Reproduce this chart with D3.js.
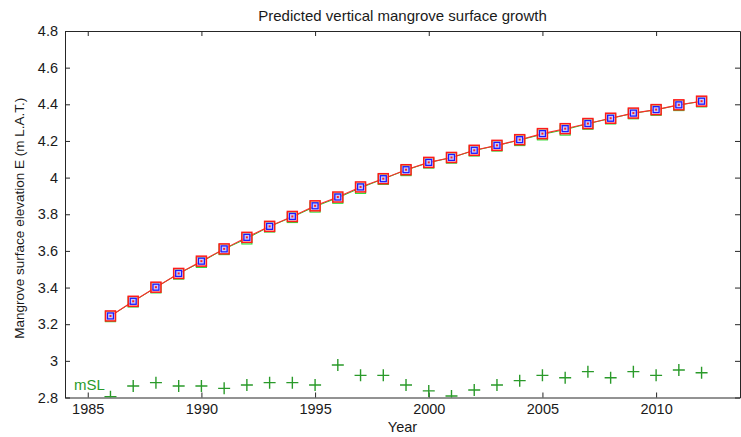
<!DOCTYPE html>
<html>
<head>
<meta charset="utf-8">
<script src="https://cdn.jsdelivr.net/npm/d3@7"></script>
<style>
  html, body { margin: 0; padding: 0; background: #fff; }
  svg { display: block; font-family: "Liberation Sans", Arial, sans-serif; }
</style>
</head>
<body>
<svg id="chart" width="741" height="437"></svg>
<script>
// Years of the model run
const years = [1986,1987,1988,1989,1990,1991,1992,1993,1994,1995,1996,1997,1998,1999,
               2000,2001,2002,2003,2004,2005,2006,2007,2008,2009,2010,2011,2012];

// Predicted surface elevation (m L.A.T.)
const elevation = [3.245,3.325,3.402,3.477,3.544,3.611,3.674,3.734,3.788,3.846,3.894,3.949,3.994,4.043,
                   4.083,4.110,4.149,4.176,4.207,4.240,4.267,4.295,4.324,4.352,4.371,4.397,4.417];

// Second model variant (drawn underneath, almost coincident)
const elevationAlt = [3.244,3.324,3.401,3.476,3.540,3.610,3.668,3.733,3.785,3.842,3.890,3.944,3.993,4.041,
                      4.082,4.109,4.148,4.175,4.205,4.236,4.262,4.294,4.323,4.351,4.370,4.396,4.416];

// Mean sea level (m L.A.T.)
const msl = [2.804,2.863,2.881,2.863,2.863,2.850,2.868,2.881,2.881,2.868,2.977,2.921,2.921,2.868,
             2.836,2.808,2.841,2.868,2.892,2.921,2.908,2.941,2.908,2.941,2.921,2.950,2.935];

const xTicks = [1985,1990,1995,2000,2005,2010];
const yTicks = [2.8,3,3.2,3.4,3.6,3.8,4,4.2,4.4,4.6,4.8];

const L = 65, R = 740, T = 31, B = 397.5;
const svg = d3.select("#chart");

const x = d3.scaleLinear().domain([1984, 2013.69]).range([L, R]);
const y = d3.scaleLinear().domain([2.8, 4.8]).range([B, T]);

const axisColor = "#262626";

// clip to the axes box
svg.append("defs").append("clipPath").attr("id", "plotclip")
  .append("rect").attr("x", L).attr("y", T).attr("width", R - L).attr("height", B - T);

// Axes with inward ticks on all four sides
const tickLen = 5;
const gx = svg.append("g").attr("transform", `translate(0,${B})`)
  .call(d3.axisBottom(x).tickValues(xTicks).tickFormat(d3.format("d")).tickSizeInner(-tickLen).tickSizeOuter(0).tickPadding(6));
const gxTop = svg.append("g").attr("transform", `translate(0,${T})`)
  .call(d3.axisTop(x).tickValues(xTicks).tickFormat("").tickSizeInner(-tickLen).tickSizeOuter(0));
const gy = svg.append("g").attr("transform", `translate(${L},0)`)
  .call(d3.axisLeft(y).tickValues(yTicks).tickFormat(d => d3.format("")(+d.toFixed(1))).tickSizeInner(-tickLen).tickSizeOuter(0).tickPadding(7));
const gyRight = svg.append("g").attr("transform", `translate(${R},0)`)
  .call(d3.axisRight(y).tickValues(yTicks).tickFormat("").tickSizeInner(-tickLen).tickSizeOuter(0));

[gx, gxTop, gy, gyRight].forEach(g => {
  g.selectAll("path.domain").attr("stroke", axisColor).attr("stroke-width", 1);
  g.selectAll(".tick line").attr("stroke", axisColor);
  g.selectAll(".tick text").attr("fill", "#1a1a1a").attr("font-size", 14.5)
    .attr("font-family", "'Liberation Sans', Arial, sans-serif");
});

const plot = svg.append("g").attr("clip-path", "url(#plotclip)");

// Alternative variant: green line with green squares
plot.append("path").datum(years.map((yr, i) => [yr, elevationAlt[i]]))
  .attr("fill", "none").attr("stroke", "#22cc22").attr("stroke-width", 1)
  .attr("d", d3.line().x(d => x(d[0])).y(d => y(d[1])));
plot.selectAll("rect.alt").data(years).join("rect").attr("class", "alt")
  .attr("x", (d, i) => x(d) - 5).attr("y", (d, i) => y(elevationAlt[i]) - 4.5)
  .attr("width", 10).attr("height", 10)
  .attr("fill", "none").attr("stroke", "#33dd33").attr("stroke-width", 1.2);

// Main prediction: red line with red squares
plot.append("path").datum(years.map((yr, i) => [yr, elevation[i]]))
  .attr("fill", "none").attr("stroke", "#ff2a2a").attr("stroke-width", 1.1)
  .attr("d", d3.line().x(d => x(d[0])).y(d => y(d[1])));
plot.selectAll("rect.main").data(years).join("rect").attr("class", "main")
  .attr("x", d => x(d) - 5).attr("y", (d, i) => y(elevation[i]) - 5)
  .attr("width", 10).attr("height", 10)
  .attr("fill", "#ffd6d6").attr("fill-opacity", 0.6)
  .attr("stroke", "#ff1a1a").attr("stroke-width", 1.5);

// Blue inner squares
plot.selectAll("rect.inner").data(years).join("rect").attr("class", "inner")
  .attr("x", d => x(d) - 3).attr("y", (d, i) => y(elevation[i]) - 3)
  .attr("width", 6).attr("height", 6)
  .attr("fill", "#c8c8ff").attr("stroke", "#1a1aff").attr("stroke-width", 1.3);

// Red centre points
plot.selectAll("rect.dot").data(years).join("rect").attr("class", "dot")
  .attr("x", d => x(d) - 1).attr("y", (d, i) => y(elevation[i]) - 1)
  .attr("width", 2).attr("height", 2).attr("fill", "#ff2020");

// Mean sea level plus markers
plot.selectAll("path.msl").data(years).join("path").attr("class", "msl")
  .attr("transform", (d, i) => `translate(${x(d)},${y(msl[i])})`)
  .attr("d", "M-6,0H6M0,-6V6")
  .attr("stroke", "#2a9a2a").attr("stroke-width", 1.4).attr("fill", "none");

// mSL label
svg.append("text").attr("x", 74).attr("y", 390)
  .attr("fill", "#2a9a2a").attr("font-size", 15).text("mSL");

// Title and axis labels
svg.append("text").attr("x", (L + R) / 2).attr("y", 21).attr("text-anchor", "middle")
  .attr("font-size", 15).attr("fill", "#1a1a1a").text("Predicted vertical mangrove surface growth");
svg.append("text").attr("x", (L + R) / 2).attr("y", 432).attr("text-anchor", "middle")
  .attr("font-size", 14.5).attr("fill", "#1a1a1a").text("Year");
svg.append("text").attr("transform", `translate(24,${(T + B) / 2 + 4}) rotate(-90)`)
  .attr("text-anchor", "middle").attr("font-size", 13.5).attr("fill", "#1a1a1a")
  .text("Mangrove surface elevation E (m L.A.T.)");
</script>
</body>
</html>
